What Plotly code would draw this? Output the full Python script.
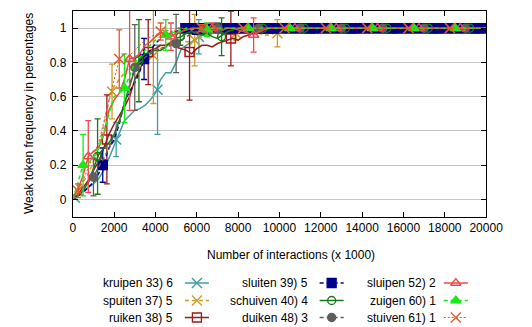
import plotly.graph_objects as go

W, H = 532, 327

# number of interactions (x 1000), sampled every 250
X = list(range(0, 20001, 250))

LABELS = ["kruipen 33) 6", "spuiten 37) 5", "ruiken 38) 5",
          "sluiten 39) 5", "schuiven 40) 4", "duiken 48) 3",
          "sluipen 52) 2", "zuigen 60) 1", "stuiven 61) 1"]

# weak token frequency, one list per verb (0 .. 20000 step 250)
kruipen = [0, .02, .05, .07, .09, .12, .17, .24, .31, .38, .46, .49, .52, .53, .55, .58, .62, .70, .74, .74,
           .80, .88, .90, .92, .94, .96, .95, .97, .98, .98, .99, .99, 1, .99, 1, 1, 1, 1, 1, 1,
           1, 1, 1, 1, 1, 1, 1, 1, 1, 1, 1, 1, 1, 1, 1, 1, 1, 1, 1, 1,
           1, 1, 1, 1, 1, 1, 1, 1, 1, 1, 1, 1, 1, 1, 1, 1, 1, 1, 1, 1, 1]
spuiten = [0, .06, .10, .15, .22, .30, .43, .58, .66, .70, .74, .77, .79, .81, .82, .83, .85, .88, .90, .92,
           .93, .93, .92, .92, .93, .95, .96, .97, .98, .98, .99, .98, .97, .98, .99, .98, .97, .96, .96, .97,
           .98, .99, 1, 1, 1, 1, 1, 1, 1, 1, 1, 1, 1, 1, 1, 1, 1, 1, 1, 1,
           1, 1, 1, 1, 1, 1, 1, 1, 1, 1, 1, 1, 1, 1, 1, 1, 1, 1, 1, 1, 1]
ruiken = [0, .03, .07, .11, .17, .22, .30, .38, .44, .49, .54, .60, .70, .76, .83, .87, .88, .90, .90, .91,
          .89, .88, .87, .85, .88, .90, .90, .89, .91, .92, .93, .94, .93, .95, .96, .97, .98, .97, .99, 1,
          1, 1, 1, 1, 1, 1, 1, 1, 1, 1, 1, 1, 1, 1, 1, 1, 1, 1, 1, 1,
          1, 1, 1, 1, 1, 1, 1, 1, 1, 1, 1, 1, 1, 1, 1, 1, 1, 1, 1, 1, 1]
sluiten = [0, .02, .04, .07, .10, .15, .21, .30, .35, .44, .57, .63, .68, .75, .83, .87, .91, .94, .96, .97,
           .98, .99, 1, 1, .99, 1, 1, 1, 1, 1, 1, 1, 1, 1, 1, 1, 1, 1, 1, 1,
           1, 1, 1, 1, 1, 1, 1, 1, 1, 1, 1, 1, 1, 1, 1, 1, 1, 1, 1, 1,
           1, 1, 1, 1, 1, 1, 1, 1, 1, 1, 1, 1, 1, 1, 1, 1, 1, 1, 1, 1, 1]
schuiven = [0, .02, .05, .10, .18, .26, .30, .33, .38, .46, .56, .66, .76, .82, .85, .86, .87, .87, .89, .92,
            .94, .95, .97, .98, .97, .96, .97, .95, .94, .96, .98, .99, 1, 1, 1, 1, 1, 1, 1, 1,
            1, 1, 1, 1, 1, 1, 1, 1, 1, 1, 1, 1, 1, 1, 1, 1, 1, 1, 1, 1,
            1, 1, 1, 1, 1, 1, 1, 1, 1, 1, 1, 1, 1, 1, 1, 1, 1, 1, 1, 1, 1]
duiken = [0, .03, .06, .10, .13, .19, .24, .30, .37, .45, .55, .67, .77, .80, .83, .85, .87, .88, .89, .90,
          .91, .93, .95, .97, .98, .99, .99, 1, 1, .99, 1, 1, 1, 1, 1, 1, 1, 1, 1, 1,
          1, 1, 1, 1, 1, 1, 1, 1, 1, 1, 1, 1, 1, 1, 1, 1, 1, 1, 1, 1,
          1, 1, 1, 1, 1, 1, 1, 1, 1, 1, 1, 1, 1, 1, 1, 1, 1, 1, 1, 1, 1]
sluipen = [0, .06, .14, .25, .28, .30, .38, .52, .58, .62, .70, .82, .83, .85, .90, .92, .95, .97, .98, .95,
           .97, .98, .99, 1, 1, .99, 1, 1, 1, .99, 1, 1, .99, .98, .97, .96, .98, .99, 1, 1,
           1, 1, 1, 1, 1, 1, 1, 1, 1, 1, 1, 1, 1, 1, 1, 1, 1, 1, 1, 1,
           1, 1, 1, 1, 1, 1, 1, 1, 1, 1, 1, 1, 1, 1, 1, 1, 1, 1, 1, 1, 1]
zuigen = [0, .10, .20, .21, .25, .30, .38, .50, .60, .62, .65, .72, .80, .83, .87, .90, .93, .95, .96, .98,
          .97, .99, 1, .99, 1, 1, .99, 1, 1, 1, 1, 1, 1, 1, 1, 1, 1, 1, 1, 1,
          1, 1, 1, 1, 1, 1, 1, 1, 1, 1, 1, 1, 1, 1, 1, 1, 1, 1, 1, 1,
          1, 1, 1, 1, 1, 1, 1, 1, 1, 1, 1, 1, 1, 1, 1, 1, 1, 1, 1, 1, 1]
stuiven = [0, .05, .11, .19, .26, .33, .45, .58, .70, .82, .79, .84, .87, .90, .93, .95, .96, .98, .99, .98,
           .99, 1, .99, 1, 1, 1, 1, 1, 1, 1, 1, 1, 1, 1, 1, 1, 1, 1, 1, 1,
           1, 1, 1, 1, 1, 1, 1, 1, 1, 1, 1, 1, 1, 1, 1, 1, 1, 1, 1, 1,
           1, 1, 1, 1, 1, 1, 1, 1, 1, 1, 1, 1, 1, 1, 1, 1, 1, 1, 1, 1, 1]

# sampled means with standard deviation, one sample every 2000 interactions
kruipen_pts = dict(x=[100, 2100, 4100, 6100, 8100, 10100, 12100, 14100, 16100, 18100],
                   y=[.01, .35, .64, .95, 1, 1, 1, 1, 1, 1],
                   e=[.01, .10, .26, .10, .02, 0, 0, 0, 0, 0])
spuiten_pts = dict(x=[1900, 3900, 5900, 7900, 9900, 11900, 13900, 15900, 17900, 19900],
                   y=[.63, .84, .93, .97, .97, 1, 1, 1, 1, 1],
                   e=[.16, .28, .15, .04, .08, 0, 0, 0, 0, 0])
ruiken_pts = dict(x=[1650, 3650, 5650, 7650, 9650, 11650, 13650, 15650, 17650, 19650],
                  y=[.35, .86, .86, .94, 1, 1, 1, 1, 1, 1],
                  e=[.26, .19, .28, .16, .01, 0, 0, 0, 0, 0])
sluiten_pts = dict(x=[1450, 3450, 5450, 7450, 9450, 11450, 13450, 15450, 17450, 19450],
                   y=[.20, .82, 1, 1, 1, 1, 1, 1, 1, 1],
                   e=[.10, .12, .02, 0, 0, 0, 0, 0, 0, 0])
schuiven_pts = dict(x=[1200, 3200, 5200, 7200, 9200, 11200, 13200, 15200, 17200, 19200],
                    y=[.25, .81, .95, .95, 1, 1, 1, 1, 1, 1],
                    e=[.22, .24, .05, .11, 0, 0, 0, 0, 0, 0])
duiken_pts = dict(x=[1000, 3000, 5000, 7000, 9000, 11000, 13000, 15000, 17000, 19000],
                  y=[.13, .77, .91, 1, 1, 1, 1, 1, 1, 1],
                  e=[.11, .25, .17, .03, 0, 0, 0, 0, 0, 0])
sluipen_pts = dict(x=[750, 2750, 4750, 6750, 8750, 10750, 12750, 14750, 16750, 18750],
                   y=[.25, .82, .95, 1, .96, 1, 1, 1, 1, 1],
                   e=[.21, .30, .08, .03, .10, 0, 0, 0, 0, 0])
zuigen_pts = dict(x=[500, 2500, 4500, 6500, 8500, 10500, 12500, 14500, 16500, 18500],
                  y=[.20, .65, .96, .99, 1, 1, 1, 1, 1, 1],
                  e=[.18, .20, .09, .04, 0, 0, 0, 0, 0, 0])
stuiven_pts = dict(x=[250, 2250, 4250, 6250, 8250, 10250, 12250, 14250, 16250, 18250],
                   y=[.05, .82, .98, 1, 1, 1, 1, 1, 1, 1],
                   e=[.04, .17, .05, .02, 0, 0, 0, 0, 0, 0])

SERIES = [kruipen, spuiten, ruiken, sluiten, schuiven, duiken, sluipen, zuigen, stuiven]
POINTS = [kruipen_pts, spuiten_pts, ruiken_pts, sluiten_pts, schuiven_pts,
          duiken_pts, sluipen_pts, zuigen_pts, stuiven_pts]

COLORS = ["#3f9ea3", "#d09a24", "#9e1a1a", "#00008b", "#157a15",
          "#5e5e5e", "#f04848", "#14ee14", "#e2582a"]
DASHES = ["solid", "4px,3px", "solid", "4px,3px", "solid",
          "4px,3px", "solid", "4px,3px", "2px,2px"]
WIDTHS = [1.5, 1.5, 1.5, 1.5, 1.5, 1.5, 1.5, 1.5, 1.0]
SYMBOLS = ["x-thin-open", "x-thin-open", "square-open", "square", "circle-open",
           "circle", "triangle-up-open", "triangle-up", "x-thin-open"]
SIZES = [10, 10, 9, 9, 8, 8, 9, 9, 10]

FONT = "Liberation Sans, Arial, sans-serif"

# plot area in pixels
PL, PR, PT, PB = 72.5, 502, 11, 216.5

fig = go.Figure()

for i, ys in enumerate(SERIES):
    c = COLORS[i]
    fig.add_trace(go.Scatter(
        x=X, y=ys, mode="lines", xaxis="x", yaxis="y",
        line=dict(color=c, width=WIDTHS[i], dash=DASHES[i]),
        showlegend=False, hoverinfo="skip"))
    p = POINTS[i]
    px, py = list(p["x"]), list(p["y"])
    if i == 3:
        # sluiten converges early; its markers are drawn at every sample once flat
        px += [x for x, y in zip(X, ys) if x >= 5500]
        py += [y for x, y in zip(X, ys) if x >= 5500]
    fig.add_trace(go.Scatter(
        x=px, y=py, mode="markers", xaxis="x", yaxis="y",
        marker=dict(symbol=SYMBOLS[i], size=SIZES[i], color=c, line=dict(color=c, width=1.5)),
        error_y=dict(type="data", array=p["e"] + [0] * (len(px) - len(p["e"])),
                     color=c, thickness=1.3, width=3),
        showlegend=False, hoverinfo="skip"))

# key below the chart: three columns, text then sample
COL_TEXT_R = [179, 319, 452]
COL_SAMPLE = [(189, 214), (329, 354), (458, 483)]
ROW_Y = [283, 300.5, 317.5]

annotations = []
for i, lab in enumerate(LABELS):
    col, row = i // 3, i % 3
    x1, x2 = COL_SAMPLE[col]
    yy = ROW_Y[row]
    c = COLORS[i]
    fig.add_trace(go.Scatter(
        x=[x1, x2], y=[yy, yy], mode="lines", xaxis="x2", yaxis="y2",
        line=dict(color=c, width=WIDTHS[i], dash=DASHES[i]),
        showlegend=False, hoverinfo="skip", cliponaxis=False))
    fig.add_trace(go.Scatter(
        x=[(x1 + x2) / 2], y=[yy], mode="markers", xaxis="x2", yaxis="y2",
        marker=dict(symbol=SYMBOLS[i], size=SIZES[i], color=c, line=dict(color=c, width=1.3)),
        showlegend=False, hoverinfo="skip", cliponaxis=False))
    annotations.append(dict(
        x=COL_TEXT_R[col], y=yy, xref="x2", yref="y2", text=lab, showarrow=False,
        xanchor="right", yanchor="middle", font=dict(family=FONT, size=12, color="black")))

annotations.append(dict(
    x=299 / W, y=1 - 255 / H, xref="paper", yref="paper",
    text="Number of interactions (x 1000)", showarrow=False,
    xanchor="center", yanchor="middle", font=dict(family=FONT, size=12, color="black")))
annotations.append(dict(
    x=27 / W, y=1 - 113 / H, xref="paper", yref="paper", textangle=-90,
    text="Weak token frequency in percentages", showarrow=False,
    xanchor="center", yanchor="middle", font=dict(family=FONT, size=12, color="black")))

XT = list(range(0, 20001, 2000))
YT = [0, 0.2, 0.4, 0.6, 0.8, 1.0]

fig.update_layout(
    width=W, height=H,
    margin=dict(l=0, r=0, t=0, b=0),
    paper_bgcolor="white", plot_bgcolor="rgba(0,0,0,0)",
    font=dict(family=FONT, size=12, color="black"),
    showlegend=False,
    annotations=annotations,
    xaxis=dict(domain=[PL / W, PR / W], range=[0, 20000], anchor="y",
               tickvals=XT, ticktext=[str(v) for v in XT],
               ticks="inside", ticklen=5, tickwidth=1, tickcolor="black",
               showline=True, linecolor="black", linewidth=1, mirror="ticks",
               showgrid=False, zeroline=False,
               tickfont=dict(family=FONT, size=12, color="black")),
    yaxis=dict(domain=[1 - PB / H, 1 - PT / H], range=[-0.1, 1.1], anchor="x",
               tickvals=YT, ticktext=["0", "0.2", "0.4", "0.6", "0.8", "1"],
               ticks="inside", ticklen=5, tickwidth=1, tickcolor="black",
               showline=True, linecolor="black", linewidth=1, mirror="ticks",
               showgrid=True, gridcolor="#c4c4c4", gridwidth=1.2, zeroline=False,
               ticklabelstandoff=3,
               tickfont=dict(family=FONT, size=12, color="black")),
    xaxis2=dict(domain=[0, 1], range=[0, W], anchor="y2", visible=False, fixedrange=True),
    yaxis2=dict(domain=[0, 87 / H], range=[H, H - 87], anchor="x2", visible=False, fixedrange=True),
)

fig.write_html("out.html")
